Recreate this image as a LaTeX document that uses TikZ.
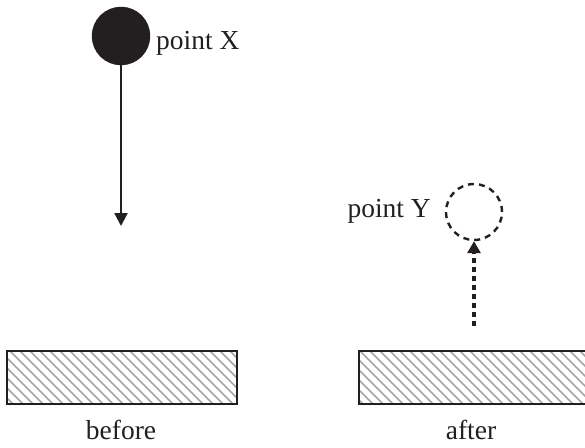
\documentclass[tikz,border=0pt]{standalone}
\usepackage{fontspec}
\setmainfont{Liberation Serif}
\usetikzlibrary{arrows.meta}
\definecolor{ink}{RGB}{35,31,32}
\definecolor{hatchgray}{RGB}{165,165,165}
\tikzset{
  lbl/.style={font=\fontsize{27.5}{32}\selectfont, text=ink, inner sep=0pt},
  ball/.style={circle, fill=ink, draw=ink, minimum size=58pt, inner sep=0pt},
  ghost/.style={circle, draw=ink, line width=2.4pt, dash pattern=on 6pt off 5pt, minimum size=56pt, inner sep=0pt},
  fall/.style={draw=ink, line width=2.4pt, -{Triangle[length=13pt,width=13pt]}},
  rise/.style={draw=ink, line width=3.2pt, dash pattern=on 5pt off 4pt, -{Triangle[length=12pt,width=13pt]}},
  slab/.style={draw=ink, line width=2.6pt}
}
\begin{document}
\begin{tikzpicture}[x=1pt,y=-1pt]
\useasboundingbox (0,0) rectangle (585,447);
\clip (0,0) rectangle (585,447);
% balls
\node[ball] (X) at (121,36) {};
\node[lbl, anchor=west] (Xl) at (156,43) {point X};
\coordinate (Xend) at (121,226);
\draw[fall] (X.south) -- (Xend);
\node[ghost] (Y) at (474,212) {};
\node[lbl, anchor=east] (Yl) at (431,211) {point Y};
\coordinate (Ystart) at (474,326);
\draw[rise] (Ystart) -- (Y.south);
% slabs
\begin{scope}
  \clip (7,351) rectangle (237,404);
  \foreach \i in {-60,-50,...,300} {
    \draw[hatchgray, line width=1.5pt] (\i,351) -- (\i+53,404);
  }
\end{scope}
\node[slab, minimum width=230pt, minimum height=53pt, inner sep=0pt] (L) at (122,377.5) {};
\begin{scope}
  \clip (359,351) rectangle (600,404);
  \foreach \i in {300,310,...,660} {
    \draw[hatchgray, line width=1.5pt] (\i,351) -- (\i+53,404);
  }
\end{scope}
\node[slab, minimum width=241pt, minimum height=53pt, inner sep=0pt] (R) at (479.5,377.5) {};
\node[lbl] (bl) at (121,430) {before};
\node[lbl] (al) at (471,430) {after};
\end{tikzpicture}
\end{document}
